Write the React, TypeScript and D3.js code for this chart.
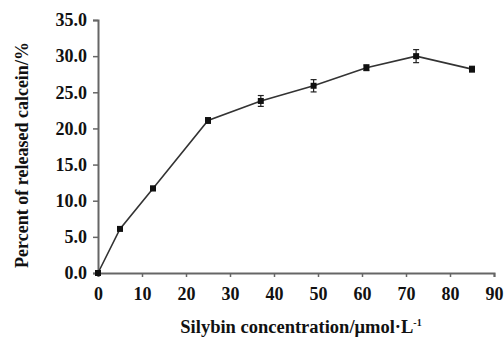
import { useEffect, useRef } from "react";
import * as d3 from "d3";

const concentrations = [0, 5, 12.5, 25, 37, 49, 61, 72.3, 85];
const released = [0, 6.1, 11.7, 21.1, 23.8, 25.9, 28.4, 30.0, 28.2];
const errors = [0, 0.2, 0.3, 0.4, 0.75, 0.85, 0.4, 0.9, 0.4];
const xTicks = [0, 10, 20, 30, 40, 50, 60, 70, 80, 90];
const yTicks = [0, 5, 10, 15, 20, 25, 30, 35];

export default function App() {
  const svgRef = useRef<SVGSVGElement | null>(null);

  useEffect(() => {
    if (!svgRef.current) return;
    const svg = d3.select(svgRef.current);
    svg.selectAll("*").remove();

    const font = "'Liberation Serif', 'Times New Roman', serif";
    const x = d3.scaleLinear().domain([0, 90]).range([98, 494]);
    const y = d3.scaleLinear().domain([0, 35]).range([273, 20]);
    const axisColor = "#666";

    // y axis
    const yAxis = svg
      .append("g")
      .attr("transform", `translate(${x(0)},0)`)
      .call(
        d3
          .axisLeft(y)
          .tickValues(yTicks)
          .tickSize(5)
          .tickPadding(6)
          .tickFormat((d) => d3.format(".1f")(d as number))
      );
    // x axis
    const xAxis = svg
      .append("g")
      .attr("transform", `translate(0,${y(0)})`)
      .call(d3.axisBottom(x).tickValues(xTicks).tickSize(4).tickPadding(10));

    [xAxis, yAxis].forEach((a) => {
      a.select(".domain").attr("stroke", axisColor).attr("stroke-width", 2);
      a.selectAll(".tick line").attr("stroke", axisColor).attr("stroke-width", 1.5);
      a.selectAll(".tick text")
        .attr("fill", "#111")
        .style("font-family", font)
        .style("font-weight", "bold")
        .style("font-size", "18px");
    });

    const pts = concentrations.map((c, i) => ({ c, v: released[i], e: errors[i] }));

    const line = d3
      .line<{ c: number; v: number }>()
      .x((d) => x(d.c))
      .y((d) => y(d.v));

    svg
      .append("path")
      .datum(pts)
      .attr("d", line)
      .attr("fill", "none")
      .attr("stroke", "#333")
      .attr("stroke-width", 1.6);

    // error bars
    const eb = svg
      .append("g")
      .selectAll("g")
      .data(pts.filter((d) => d.e > 0))
      .join("g")
      .attr("stroke", "#222")
      .attr("stroke-width", 1.2);
    eb.append("line")
      .attr("x1", (d) => x(d.c))
      .attr("x2", (d) => x(d.c))
      .attr("y1", (d) => y(d.v - d.e))
      .attr("y2", (d) => y(d.v + d.e));
    eb.append("line")
      .attr("x1", (d) => x(d.c) - 3)
      .attr("x2", (d) => x(d.c) + 3)
      .attr("y1", (d) => y(d.v + d.e))
      .attr("y2", (d) => y(d.v + d.e));
    eb.append("line")
      .attr("x1", (d) => x(d.c) - 3)
      .attr("x2", (d) => x(d.c) + 3)
      .attr("y1", (d) => y(d.v - d.e))
      .attr("y2", (d) => y(d.v - d.e));

    // markers
    svg
      .append("g")
      .selectAll("rect")
      .data(pts)
      .join("rect")
      .attr("x", (d) => x(d.c) - 3)
      .attr("y", (d) => y(d.v) - 3)
      .attr("width", 6)
      .attr("height", 6)
      .attr("fill", "#111");

    // axis titles
    svg
      .append("text")
      .attr("transform", `translate(28,155) rotate(-90)`)
      .attr("text-anchor", "middle")
      .style("font-family", font)
      .style("font-weight", "bold")
      .style("font-size", "18px")
      .attr("fill", "#111")
      .text("Percent of released calcein/%");

    const xt = svg
      .append("text")
      .attr("x", 301)
      .attr("y", 333)
      .attr("text-anchor", "middle")
      .style("font-family", font)
      .style("font-weight", "bold")
      .style("font-size", "18.5px")
      .attr("fill", "#111");
    xt.append("tspan").text("Silybin concentration/μmol·L");
    xt.append("tspan").attr("dy", -7).style("font-size", "10px").text("-1");
  }, []);

  return (
    <div style={{ position: "fixed", left: 0, top: 0, width: 504, height: 338, background: "#fff" }}>
      <svg ref={svgRef} width={504} height={338}></svg>
    </div>
  );
}
